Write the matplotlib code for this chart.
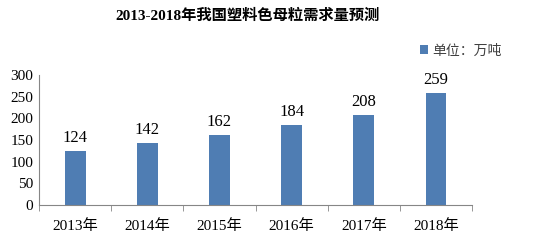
import matplotlib
matplotlib.use('Agg')
import matplotlib.pyplot as plt
import numpy as np

years = ['2013年', '2014年', '2015年', '2016年', '2017年', '2018年']
demand = [124, 142, 162, 184, 208, 259]
yticks = [0, 50, 100, 150, 200, 250, 300]

plt.rcParams['font.family'] = ['Liberation Serif', 'Noto Sans CJK SC']

bar_color = '#4f7db3'
axis_color = '#868686'

fig = plt.figure(figsize=(5.38, 2.45), dpi=100)
ax = fig.add_axes([0.0725, 0.163, 0.805, 0.531])

x = np.arange(len(years))
bars = ax.bar(x, demand, width=0.29, color=bar_color)
for xi, v in zip(x, demand):
    ax.text(xi, v + 12, str(v), ha='center', va='bottom', fontsize=12)

ax.set_xlim(-0.5, len(years) - 0.5)
ax.set_ylim(0, 300)
ax.set_yticks(yticks)
ax.set_yticklabels([str(t) for t in yticks], fontsize=11)
ax.set_xticks(x)
ax.set_xticklabels(years, fontsize=11)
ax.set_xticks(np.arange(-0.5, len(years)), minor=True)
ax.tick_params(axis='x', which='major', length=0, pad=10)
ax.tick_params(axis='x', which='minor', length=4, color=axis_color, direction='out')
ax.tick_params(axis='y', length=0, pad=4)

for s in ['top', 'right']:
    ax.spines[s].set_visible(False)
for s in ['left', 'bottom']:
    ax.spines[s].set_color(axis_color)
    ax.spines[s].set_linewidth(0.8)

fig.text(0.46, 0.935, '2013-2018年我国塑料色母粒需求量预测', ha='center', va='center',
         fontsize=11, fontweight='bold')

leg = ax.legend([bars], ['单位：万吨'], loc='upper left', bbox_to_anchor=(0.85, 1.33),
                frameon=False, handlelength=0.6, handleheight=0.6, handletextpad=0.3,
                fontsize=10)
for t in leg.get_texts():
    t.set_color('#404040')

fig.savefig('out.png', dpi=100)
